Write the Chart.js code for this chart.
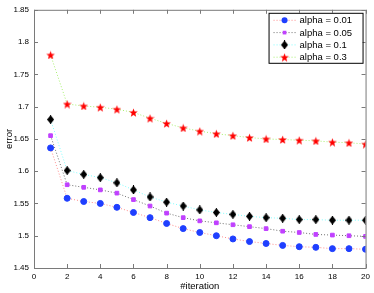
<!DOCTYPE html>
<html>
<head>
<meta charset="utf-8">
<script src="https://cdn.jsdelivr.net/npm/chart.js@4.4.1/dist/chart.umd.min.js"></script>
<style>
  html, body { margin: 0; padding: 0; background: #fff; }
  #wrap { width: 374px; height: 293px; }
</style>
</head>
<body>
<div id="wrap"><canvas id="chart" width="374" height="293"></canvas></div>
<script>
const iterations = [1, 2, 3, 4, 5, 6, 7, 8, 9, 10, 11, 12, 13, 14, 15, 16, 17, 18, 19, 20];

const alpha001 = [1.636, 1.558, 1.553, 1.550, 1.544, 1.536, 1.528, 1.519, 1.511, 1.505,
                  1.500, 1.495, 1.491, 1.488, 1.485, 1.483, 1.482, 1.480, 1.480, 1.479];
const alpha005 = [1.655, 1.579, 1.575, 1.571, 1.566, 1.556, 1.546, 1.535, 1.528, 1.523,
                  1.520, 1.517, 1.514, 1.511, 1.507, 1.505, 1.502, 1.501, 1.500, 1.499];
const alpha01  = [1.680, 1.601, 1.595, 1.590, 1.582, 1.571, 1.560, 1.552, 1.546, 1.540,
                  1.536, 1.533, 1.530, 1.528, 1.527, 1.525, 1.525, 1.524, 1.524, 1.524];
const alpha03  = [1.780, 1.704, 1.701, 1.699, 1.696, 1.691, 1.682, 1.674, 1.667, 1.662,
                  1.658, 1.655, 1.652, 1.650, 1.649, 1.648, 1.647, 1.645, 1.644, 1.642];

const seriesLabels = ['alpha = 0.01', 'alpha = 0.05', 'alpha = 0.1', 'alpha = 0.3'];

const xTicks = [0, 2, 4, 6, 8, 10, 12, 14, 16, 18, 20];
const yTicks = [1.45, 1.5, 1.55, 1.6, 1.65, 1.7, 1.75, 1.8, 1.85];

const FONT = '"Liberation Sans", Arial, sans-serif';
const AXIS = '#7a7a7a';

// filled 5 point star as an image, chart.js 'star' is only an asterisk
function makeStar(size, color) {
  const c = document.createElement('canvas');
  c.width = size;
  c.height = size;
  const g = c.getContext('2d');
  const cx = size / 2, cy = size / 2 + 0.5;
  const ro = size / 2, ri = ro * 0.42;
  g.beginPath();
  for (let i = 0; i < 10; i++) {
    const r = i % 2 === 0 ? ro : ri;
    const a = -Math.PI / 2 + i * Math.PI / 5;
    const px = cx + r * Math.cos(a);
    const py = cy + r * Math.sin(a);
    if (i === 0) g.moveTo(px, py); else g.lineTo(px, py);
  }
  g.closePath();
  g.fillStyle = color;
  g.fill();
  return c;
}

// diamond a bit taller than wide, with the vertical stroke matlab draws
function makeDiamond(w, h, color) {
  const c = document.createElement('canvas');
  c.width = w;
  c.height = h;
  const g = c.getContext('2d');
  g.beginPath();
  g.moveTo(w / 2, 0);
  g.lineTo(w, h / 2);
  g.lineTo(w / 2, h);
  g.lineTo(0, h / 2);
  g.closePath();
  g.fillStyle = color;
  g.fill();
  g.fillRect(w / 2 - 0.5, 0, 1, h);
  return c;
}

const starImg = makeStar(9, '#ff0000');
const diamondImg = makeDiamond(7, 9, '#000');

function toPoints(vals) {
  return vals.map((v, i) => ({ x: iterations[i], y: v }));
}

// ===== box + inward ticks, matlab style =====
const boxPlugin = {
  id: 'box',
  afterDraw(chart) {
    const { ctx, chartArea: a, scales } = chart;
    ctx.save();
    ctx.strokeStyle = AXIS;
    ctx.lineWidth = 1;
    ctx.strokeRect(a.left + 0.5, a.top + 0.5, a.right - a.left, a.bottom - a.top);
    ctx.beginPath();
    const t = 4;
    xTicks.forEach(v => {
      const px = Math.round(scales.x.getPixelForValue(v)) + 0.5;
      ctx.moveTo(px, a.bottom); ctx.lineTo(px, a.bottom - t);
      ctx.moveTo(px, a.top); ctx.lineTo(px, a.top + t);
    });
    yTicks.forEach(v => {
      const py = Math.round(scales.y.getPixelForValue(v)) + 0.5;
      ctx.moveTo(a.left, py); ctx.lineTo(a.left + t, py);
      ctx.moveTo(a.right, py); ctx.lineTo(a.right - t, py);
    });
    ctx.stroke();
    ctx.restore();
  }
};

// ===== legend inside top right =====
const legendPlugin = {
  id: 'boxLegend',
  afterDraw(chart) {
    const { ctx, chartArea: a } = chart;
    const w = 94, h = 50;
    const x0 = a.right - 3 - w, y0 = a.top + 3;
    ctx.save();
    ctx.fillStyle = '#fff';
    ctx.fillRect(x0, y0, w, h);
    ctx.strokeStyle = '#000';
    ctx.lineWidth = 1;
    ctx.strokeRect(x0 + 0.5, y0 + 0.5, w, h);
    ctx.font = '9.5px ' + FONT;
    ctx.textBaseline = 'middle';
    chart.data.datasets.forEach((ds, i) => {
      const y = y0 + 7.5 + i * 12.3;
      ctx.strokeStyle = ds.borderColor;
      ctx.setLineDash([1, 2]);
      ctx.beginPath();
      ctx.moveTo(x0 + 5, y);
      ctx.lineTo(x0 + 27, y);
      ctx.stroke();
      ctx.setLineDash([]);
      const el = { pointStyle: ds.pointStyle, radius: ds.pointRadius, rotation: 0 };
      ctx.fillStyle = ds.pointBackgroundColor;
      ctx.strokeStyle = ds.pointBorderColor;
      Chart.helpers.drawPoint(ctx, el, x0 + 16, y);
      ctx.fillStyle = '#000';
      ctx.fillText(ds.label, x0 + 31, y + 0.5);
    });
    ctx.restore();
  }
};

new Chart(document.getElementById('chart'), {
  type: 'line',
  data: {
    datasets: [
      {
        label: seriesLabels[0],
        data: toPoints(alpha001),
        borderColor: '#ff8c8c',
        pointStyle: 'circle',
        pointRadius: 3,
        pointBackgroundColor: '#1f3fff',
        pointBorderColor: '#1f3fff'
      },
      {
        label: seriesLabels[1],
        data: toPoints(alpha005),
        borderColor: '#707070',
        pointStyle: 'rect',
        pointRadius: 2.6,
        pointBackgroundColor: '#c040ff',
        pointBorderColor: '#c040ff'
      },
      {
        label: seriesLabels[2],
        data: toPoints(alpha01),
        borderColor: '#80ffff',
        pointStyle: diamondImg,
        pointRadius: 4,
        pointBackgroundColor: '#000',
        pointBorderColor: '#000'
      },
      {
        label: seriesLabels[3],
        data: toPoints(alpha03),
        borderColor: '#a8f070',
        pointStyle: starImg,
        pointRadius: 5,
        pointBackgroundColor: '#ff0000',
        pointBorderColor: '#ff0000'
      }
    ].map(ds => Object.assign(ds, {
      borderWidth: 1,
      borderDash: [1, 2],
      tension: 0,
      fill: false,
      pointBorderWidth: 1
    }))
  },
  options: {
    responsive: false,
    animation: false,
    devicePixelRatio: 1,
    layout: { padding: { top: 6, right: 7, left: 4, bottom: 0 } },
    plugins: {
      legend: { display: false },
      tooltip: { enabled: false }
    },
    scales: {
      x: {
        type: 'linear',
        min: 0,
        max: 20,
        afterBuildTicks: s => { s.ticks = xTicks.map(v => ({ value: v })); },
        afterFit: s => { s.height = 25; },
        grid: { display: false, drawTicks: false },
        border: { display: false },
        ticks: {
          color: '#000',
          font: { family: FONT, size: 8 },
          padding: 4,
          maxRotation: 0
        },
        title: {
          display: true,
          text: '#iteration',
          color: '#000',
          font: { family: FONT, size: 9.5 },
          padding: { top: 0, bottom: 1 }
        }
      },
      y: {
        type: 'linear',
        min: 1.45,
        max: 1.85,
        afterBuildTicks: s => { s.ticks = yTicks.map(v => ({ value: v })); },
        afterFit: s => { s.width = 30; },
        grid: { display: false, drawTicks: false },
        border: { display: false },
        ticks: {
          color: '#000',
          font: { family: FONT, size: 8 },
          padding: 5,
          callback: v => String(Math.round(v * 100) / 100)
        },
        title: {
          display: true,
          text: 'error',
          color: '#000',
          font: { family: FONT, size: 9.5 },
          padding: { top: 0, bottom: 4 }
        }
      }
    }
  },
  plugins: [boxPlugin, legendPlugin]
});
</script>
</body>
</html>
